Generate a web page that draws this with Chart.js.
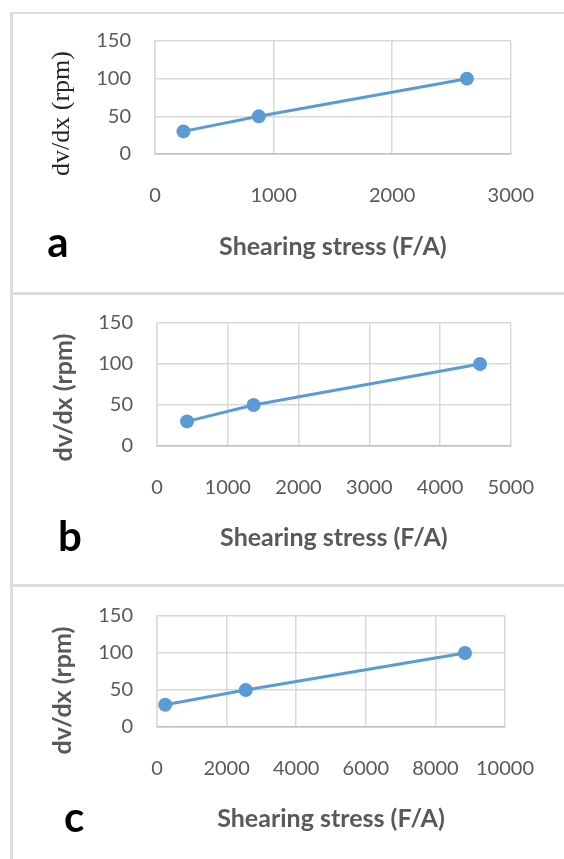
<!DOCTYPE html>
<html>
<head>
<meta charset="utf-8">
<script src="https://cdn.jsdelivr.net/npm/chart.js@4.4.1/dist/chart.umd.min.js"></script>
<style>
  html, body { margin: 0; padding: 0; background: #fff; }
  body { width: 564px; height: 859px; position: relative; overflow: hidden; }
  .frame { position: absolute; left: 10px; top: 12px; width: 560px; height: 850px;
           border-left: 3px solid #dcdcdc; border-top: 2px solid #dcdcdc; }
  .divider { position: absolute; left: 10px; width: 560px; height: 0; border-top: 3px solid #dcdcdc; }
  .panel { position: absolute; left: 0; width: 564px; }
</style>
</head>
<body>
<div class="frame"></div>
<div class="divider" style="top:292px"></div>
<div class="divider" style="top:584px"></div>

<div class="panel" style="top:15px;height:277px"><canvas id="chartA"></canvas></div>
<div class="panel" style="top:296px;height:288px"><canvas id="chartB"></canvas></div>
<div class="panel" style="top:587px;height:272px"><canvas id="chartC"></canvas></div>

<script>
// dv/dx (rpm) values, same for all three panels
const rpm = [30, 50, 100];

// shearing stress (F/A) per panel
const stressA = [240, 875, 2630];
const stressB = [425, 1365, 4565];
const stressC = [235, 2550, 8850];

// axis limits
const xMaxA = 3000, xStepA = 1000;
const xMaxB = 5000, xStepB = 1000;
const xMaxC = 10000, xStepC = 2000;
const yMax = 150, yStep = 50;

const blue = '#5b9bd5';
const grey = '#595959';
const gridColor = '#d9d9d9';

// draws the rotated y title and the panel letter
const panelText = {
    id: 'panelText',
    afterDraw(chart, args, opts) {
        const ctx = chart.ctx;
        const area = chart.chartArea;
        ctx.save();
        ctx.translate(area.left + opts.titleDx, (area.top + area.bottom) / 2 + opts.titleDy);
        ctx.rotate(-Math.PI / 2);
        ctx.font = opts.titleFont;
        ctx.fillStyle = opts.titleColor;
        ctx.textAlign = 'center';
        ctx.textBaseline = 'middle';
        ctx.fillText(opts.title, 0, 0);
        ctx.restore();

        ctx.save();
        ctx.font = 'bold 42px Lato';
        ctx.fillStyle = '#000';
        ctx.textAlign = 'center';
        ctx.textBaseline = 'alphabetic';
        ctx.fillText(opts.letter, area.left + opts.letterDx, area.bottom + opts.letterDy);
        ctx.restore();
    }
};

function makeChart(id, xs, xMax, xStep, cfg) {
    const pts = xs.map((x, i) => ({ x: x, y: rpm[i] }));
    return new Chart(document.getElementById(id), {
        type: 'scatter',
        data: {
            datasets: [{
                data: pts,
                showLine: true,
                borderColor: blue,
                backgroundColor: blue,
                borderWidth: 3,
                pointRadius: 7,
                pointHoverRadius: 7,
                pointBorderWidth: 0
            }]
        },
        options: {
            responsive: true,
            maintainAspectRatio: false,
            animation: false,
            events: [],
            layout: { padding: cfg.padding },
            plugins: {
                legend: { display: false },
                tooltip: { enabled: false },
                panelText: cfg.text
            },
            scales: {
                x: {
                    type: 'linear',
                    min: 0, max: xMax,
                    ticks: { stepSize: xStep, padding: 30, color: grey, font: { family: 'Lato', size: 20 },
                             callback: v => String(v) },
                    grid: { color: gridColor, lineWidth: 1.5, drawTicks: false },
                    border: { color: '#bfbfbf', width: 1.5 },
                    title: { display: true, text: 'Shearing stress (F/A)', color: grey, padding: 0,
                             font: { family: 'Lato', size: 25, weight: 'bold' } },
                    afterFit(scale) { scale.height = cfg.xHeight; }
                },
                y: {
                    min: 0, max: yMax,
                    ticks: { stepSize: yStep, padding: 24, color: grey, font: { family: 'Lato', size: 20 } },
                    grid: { color: gridColor, lineWidth: 1.5, drawTicks: false },
                    border: { color: gridColor, width: 1.5 },
                    afterFit(scale) {
                        scale.width = cfg.yWidth;
                        // labels only overhang by half their height
                        scale.paddingTop = 12;
                        scale.paddingBottom = 12;
                    }
                }
            }
        },
        plugins: [panelText]
    });
}

makeChart('chartA', stressA, xMaxA, xStepA, {
    padding: { top: 26, right: 50, bottom: 30, left: 0 },
    yWidth: 155, xHeight: 108,
    text: { title: 'dv/dx (rpm)', titleFont: '26px "Liberation Serif"', titleColor: '#262626',
            titleDx: -93, titleDy: 16, letter: 'a', letterDx: -97, letterDy: 103 }
});
makeChart('chartB', stressB, xMaxB, xStepB, {
    padding: { top: 27, right: 50, bottom: 31, left: 0 },
    yWidth: 157, xHeight: 107,
    text: { title: 'dv/dx (rpm)', titleFont: 'bold 25px Lato', titleColor: grey,
            titleDx: -93, titleDy: 13, letter: 'b', letterDx: -87, letterDy: 105 }
});
makeChart('chartC', stressC, xMaxC, xStepC, {
    padding: { top: 29, right: 56, bottom: 25, left: 0 },
    yWidth: 157, xHeight: 107,
    text: { title: 'dv/dx (rpm)', titleFont: 'bold 25px Lato', titleColor: grey,
            titleDx: -94, titleDy: 19, letter: 'c', letterDx: -83, letterDy: 105 }
});
</script>
</body>
</html>
